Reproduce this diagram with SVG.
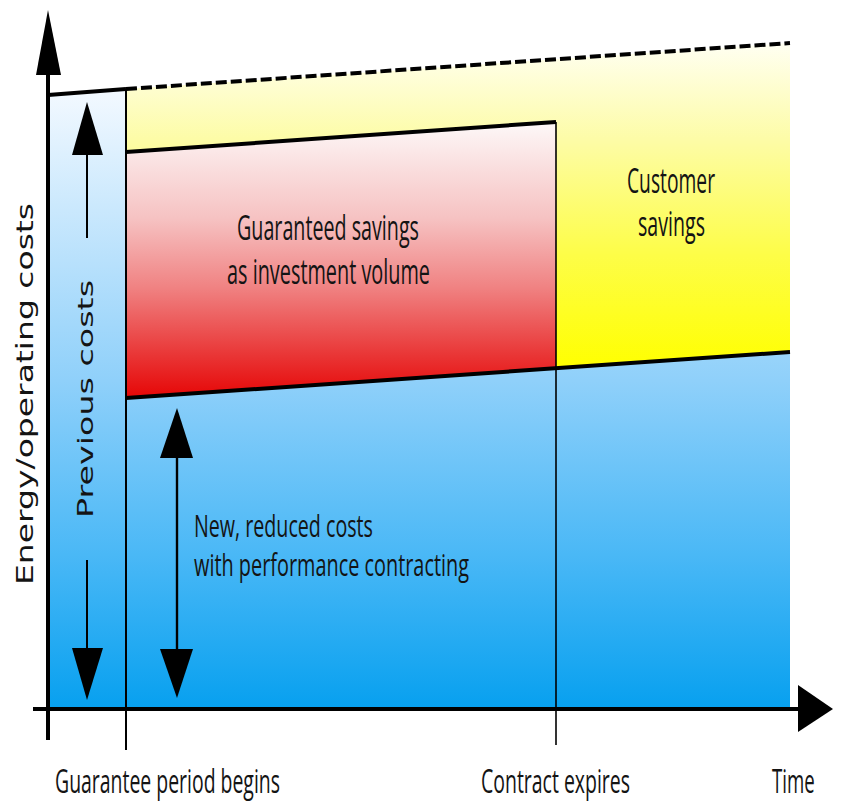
<svg xmlns="http://www.w3.org/2000/svg" width="842" height="803" viewBox="0 0 842 803">
  <defs>
    <linearGradient id="gradBlue" gradientUnits="userSpaceOnUse" x1="0" y1="90" x2="0" y2="709">
      <stop offset="0" stop-color="#f3f9ff"/>
      <stop offset="0.47" stop-color="#8fd0fa"/>
      <stop offset="0.75" stop-color="#4ab8f6"/>
      <stop offset="1" stop-color="#07a0ef"/>
    </linearGradient>
    <linearGradient id="gradYellow" gradientUnits="userSpaceOnUse" x1="0" y1="43" x2="0" y2="368">
      <stop offset="0" stop-color="#fffff2"/>
      <stop offset="0.3" stop-color="#fdfca6"/>
      <stop offset="0.65" stop-color="#fdfd48"/>
      <stop offset="1" stop-color="#ffff00"/>
    </linearGradient>
    <linearGradient id="gradRed" gradientUnits="userSpaceOnUse" x1="0" y1="122" x2="0" y2="398">
      <stop offset="0" stop-color="#fdf8f8"/>
      <stop offset="0.35" stop-color="#f6c2c2"/>
      <stop offset="0.6" stop-color="#f08282"/>
      <stop offset="0.85" stop-color="#e93434"/>
      <stop offset="1" stop-color="#e60606"/>
    </linearGradient>
  </defs>
  <style>
    .lbl { font-family: "Open Sans", "Liberation Sans", sans-serif; fill: #141414; }
    .vlbl { font-family: "DejaVu Sans", "Verdana", sans-serif; fill: #141414; }
    .edge { stroke: #000; fill: none; stroke-linecap: butt; }
    .head { fill: #000; stroke: none; }
  </style>

  <rect x="0" y="0" width="842" height="803" fill="#ffffff"/>

  <!-- cost areas -->
  <g id="previous-costs-area">
    <polygon points="48,95 126,89 126,709 48,709" fill="url(#gradBlue)"/>
  </g>
  <g id="reduced-costs-area">
    <polygon points="126,398 790,352 790,709 126,709" fill="url(#gradBlue)"/>
  </g>
  <g id="customer-savings-area">
    <polygon points="126,89 790,43 790,352 556,368 556,122 126,152" fill="url(#gradYellow)"/>
  </g>
  <g id="guaranteed-savings-area">
    <polygon points="126,152 556,122 556,368 126,398" fill="url(#gradRed)"/>
  </g>

  <!-- axes, boundaries and arrows -->
  <g id="connectors">
    <!-- boundary lines -->
    <line class="edge" x1="48" y1="95" x2="126" y2="89" stroke-width="4"/>
    <line class="edge" x1="126" y1="89" x2="790" y2="43" stroke-width="4" stroke-dasharray="11 4"/>
    <line class="edge" x1="126" y1="152" x2="556" y2="122" stroke-width="4"/>
    <line class="edge" x1="126" y1="398" x2="790" y2="352" stroke-width="4"/>
    <line class="edge" x1="126" y1="89" x2="126" y2="750" stroke-width="2"/>
    <line class="edge" x1="556" y1="122" x2="556" y2="745" stroke-width="1.6"/>

    <!-- y axis -->
    <line class="edge" x1="48" y1="70" x2="48" y2="740" stroke-width="4"/>
    <polygon class="head" points="48,10 36,75 61,75"/>
    <!-- x axis -->
    <line class="edge" x1="33" y1="709" x2="800" y2="709" stroke-width="4"/>
    <polygon class="head" points="833,709 798,685 798,732"/>

    <!-- previous costs arrows -->
    <line class="edge" x1="87" y1="150" x2="87" y2="238" stroke-width="2"/>
    <polygon class="head" points="87,102 72,155 103,155"/>
    <line class="edge" x1="87" y1="560" x2="87" y2="652" stroke-width="2"/>
    <polygon class="head" points="72,648 103,648 87,700"/>

    <!-- new costs double arrow -->
    <line class="edge" x1="177" y1="452" x2="177" y2="655" stroke-width="2.4"/>
    <polygon class="head" points="177,408 160,458 193,458"/>
    <polygon class="head" points="160,649 193,649 177,698"/>
  </g>

  <!-- labels -->
  <g id="label-y-axis">
    <text class="vlbl" transform="translate(33,585) rotate(-90)" font-size="23" textLength="382" lengthAdjust="spacingAndGlyphs">Energy/operating costs</text>
  </g>
  <g id="label-previous-costs">
    <text class="vlbl" transform="translate(93,518) rotate(-90)" font-size="21" textLength="238" lengthAdjust="spacingAndGlyphs">Previous costs</text>
  </g>
  <g id="label-guaranteed-savings">
    <text class="lbl" x="237" y="240" font-size="34" textLength="182" lengthAdjust="spacingAndGlyphs">Guaranteed savings</text>
    <text class="lbl" x="227" y="284" font-size="34" textLength="203" lengthAdjust="spacingAndGlyphs">as investment volume</text>
  </g>
  <g id="label-customer-savings">
    <text class="lbl" x="627" y="193" font-size="34" textLength="88" lengthAdjust="spacingAndGlyphs">Customer</text>
    <text class="lbl" x="638" y="236" font-size="34" textLength="67" lengthAdjust="spacingAndGlyphs">savings</text>
  </g>
  <g id="label-reduced-costs">
    <text class="lbl" x="194" y="537" font-size="31" textLength="179" lengthAdjust="spacingAndGlyphs">New, reduced costs</text>
    <text class="lbl" x="194" y="576" font-size="31" textLength="275" lengthAdjust="spacingAndGlyphs">with performance contracting</text>
  </g>
  <g id="label-guarantee-begins">
    <text class="lbl" x="55" y="793" font-size="32" textLength="225" lengthAdjust="spacingAndGlyphs">Guarantee period begins</text>
  </g>
  <g id="label-contract-expires">
    <text class="lbl" x="481" y="793" font-size="32" textLength="149" lengthAdjust="spacingAndGlyphs">Contract expires</text>
  </g>
  <g id="label-time">
    <text class="lbl" transform="translate(772,793) scale(0.583,1)" x="0" y="0" font-size="32">Time</text>
  </g>
</svg>
